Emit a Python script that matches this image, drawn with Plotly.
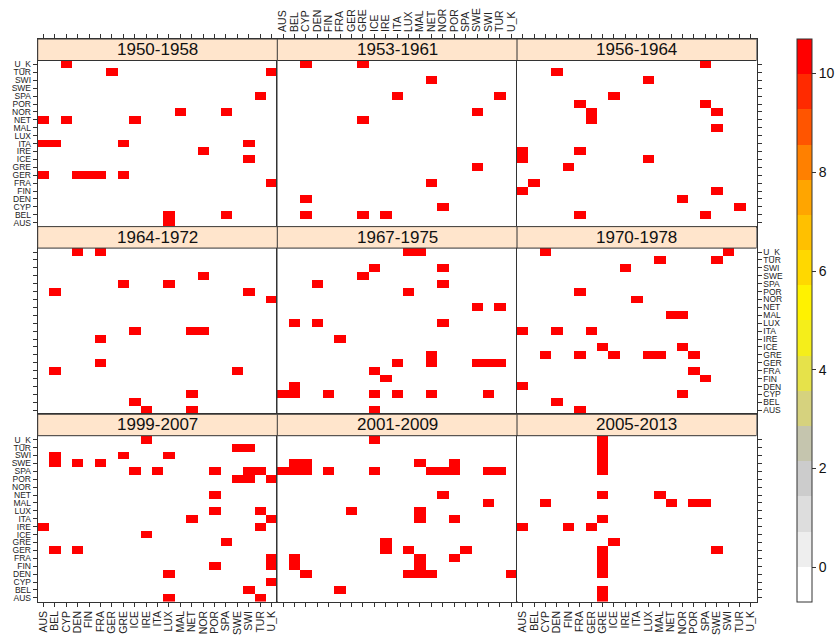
import plotly.graph_objects as go

# ---------------- data ----------------
countries = ["AUS", "BEL", "CYP", "DEN", "FIN", "FRA", "GER", "GRE", "ICE", "IRE",
             "ITA", "LUX", "MAL", "NET", "NOR", "POR", "SPA", "SWE", "SWI", "TUR", "U_K"]

periods = ["1950-1958", "1953-1961", "1956-1964",
           "1964-1972", "1967-1975", "1970-1978",
           "1999-2007", "2001-2009", "2005-2013"]

# row country (y) -> list of column countries (x) whose cell has the top value
links_1950_1958 = {
    "U_K": ["CYP"], "TUR": ["GER", "U_K"], "SPA": ["TUR"], "NOR": ["MAL", "SPA"],
    "NET": ["AUS", "CYP", "ICE"], "ITA": ["AUS", "BEL", "GRE", "SWI"], "IRE": ["NOR"],
    "ICE": ["SWI"], "GER": ["AUS", "DEN", "FIN", "FRA", "GRE"], "FRA": ["U_K"],
    "BEL": ["LUX", "SPA"], "AUS": ["LUX"],
}
links_1953_1961 = {
    "U_K": ["CYP", "GRE"], "SWI": ["NET"], "SPA": ["ITA", "TUR"], "NOR": ["SWE"],
    "NET": ["GRE"], "GRE": ["SWE"], "FRA": ["NET"], "DEN": ["CYP"], "CYP": ["NOR"],
    "BEL": ["CYP", "GRE", "IRE"],
}
links_1956_1964 = {
    "U_K": ["SPA"], "TUR": ["DEN"], "SWI": ["LUX"], "SPA": ["ICE"], "POR": ["FRA", "SPA"],
    "NOR": ["GER", "SWE"], "NET": ["GER"], "MAL": ["SWE"], "IRE": ["AUS", "FRA"],
    "ICE": ["AUS", "LUX"], "GRE": ["FIN"], "FRA": ["BEL"], "FIN": ["AUS", "SWE"],
    "DEN": ["NOR"], "CYP": ["TUR"], "BEL": ["FRA", "SPA"],
}
links_1964_1972 = {
    "U_K": ["DEN", "FRA"], "SWE": ["NOR"], "SPA": ["GRE", "LUX"], "POR": ["BEL", "SWI"],
    "NOR": ["U_K"], "ITA": ["ICE", "NET", "NOR"], "IRE": ["FRA"], "GER": ["FRA"],
    "FRA": ["BEL", "SWE"], "CYP": ["NET"], "BEL": ["ICE"], "AUS": ["IRE", "NET"],
}
links_1967_1975 = {
    "U_K": ["LUX", "MAL"], "SWI": ["ICE", "NOR"], "SWE": ["GRE"], "SPA": ["DEN", "NOR"],
    "POR": ["LUX"], "NET": ["SWE", "TUR"], "LUX": ["BEL", "DEN", "NOR"], "IRE": ["FRA"],
    "GRE": ["NET"], "GER": ["ITA", "NET", "SWE", "SWI", "TUR"], "FRA": ["ICE"],
    "FIN": ["IRE"], "DEN": ["BEL"], "CYP": ["AUS", "BEL", "FIN", "ICE", "ITA", "NET", "SWI"],
    "AUS": ["ICE"],
}
links_1970_1978 = {
    "U_K": ["CYP", "SWI"], "TUR": ["MAL", "SWE"], "SWI": ["IRE"], "POR": ["FRA"],
    "NOR": ["ITA"], "MAL": ["NET", "NOR"], "ITA": ["AUS", "DEN", "GER"],
    "ICE": ["GRE", "NOR"], "GRE": ["CYP", "FRA", "ICE", "LUX", "MAL", "POR"],
    "FRA": ["POR"], "FIN": ["SPA"], "DEN": ["AUS"], "CYP": ["NOR"], "BEL": ["DEN"],
    "AUS": ["FRA"],
}
links_1999_2007 = {
    "U_K": ["IRE"], "TUR": ["SWE", "SWI"], "SWI": ["BEL", "GRE", "LUX"],
    "SWE": ["BEL", "DEN", "FRA"], "SPA": ["ICE", "ITA", "POR", "SWI", "TUR"],
    "POR": ["SWE", "SWI", "U_K"], "NET": ["POR"], "LUX": ["POR", "TUR"],
    "ITA": ["NET", "U_K"], "IRE": ["AUS", "TUR"], "ICE": ["IRE"], "GRE": ["SPA"],
    "GER": ["BEL", "DEN"], "FRA": ["U_K"], "FIN": ["POR", "U_K"], "DEN": ["LUX"],
    "CYP": ["U_K"], "BEL": ["SWI"], "AUS": ["LUX", "TUR"],
}
links_2001_2009 = {
    "U_K": ["ICE"], "SWE": ["BEL", "CYP", "MAL", "POR"],
    "SPA": ["AUS", "BEL", "CYP", "FIN", "ICE", "NET", "NOR", "POR", "SWI", "TUR"],
    "NET": ["NOR"], "MAL": ["SWI"], "LUX": ["GER", "MAL"], "ITA": ["MAL", "POR"],
    "GRE": ["IRE"], "GER": ["IRE", "LUX", "SPA"], "FRA": ["BEL", "MAL", "POR"],
    "FIN": ["BEL", "MAL"], "DEN": ["CYP", "LUX", "MAL", "NET", "U_K"], "BEL": ["FRA"],
}
links_2005_2013 = {
    "U_K": ["GRE"], "TUR": ["GRE"], "SWI": ["GRE"], "SWE": ["GRE"], "SPA": ["GRE"],
    "NET": ["GRE", "MAL"], "MAL": ["CYP", "NET", "POR", "SPA"], "ITA": ["GRE"],
    "IRE": ["AUS", "FIN", "GER"], "GRE": ["ICE"], "GER": ["GRE", "SWE"],
    "FRA": ["GRE"], "FIN": ["GRE"], "DEN": ["GRE"], "BEL": ["GRE"], "AUS": ["GRE"],
}

panel_links = [links_1950_1958, links_1953_1961, links_1956_1964,
               links_1964_1972, links_1967_1975, links_1970_1978,
               links_1999_2007, links_2001_2009, links_2005_2013]

marked_value = 10
empty_value = 0
colorbar_ticks = [0, 2, 4, 6, 8, 10]
z_range = [-0.7, 10.7]

# ---------------- style ----------------
band_colors = ["#FFFFFF", "#EEEEEE", "#DDDDDD", "#CCCCCC", "#C5C5AE", "#D6D27E",
               "#E6E24A", "#F5EE1A", "#FFF200", "#FFD800", "#FFC000", "#FFA500",
               "#FF8000", "#FF5500", "#FF2A00", "#FF0000"]
nb = len(band_colors)
colorscale = []
for i, col in enumerate(band_colors):
    colorscale.append([i / nb, col])
    colorscale.append([(i + 1) / nb, col])

W, H = 839, 640
col_edges = [37.7, 277.3, 517.0, 756.6]
top = 39.0
row_h = 187.6
strip_h = 21.5
n = len(countries)
cell_h = (row_h - strip_h) / n
s = strip_h / cell_h
line_col = "#333333"
font_family = "Liberation Sans, Arial, sans-serif"

fig = go.Figure()
layout = {}
shapes = []
annotations = []

for k, links in enumerate(panel_links):
    r, c = divmod(k, 3)
    z = [[empty_value] * n for _ in range(n)]
    for yc, xs in links.items():
        for xc in xs:
            z[countries.index(yc)][countries.index(xc)] = marked_value
    ax = "" if k == 0 else str(k + 1)
    fig.add_trace(go.Heatmap(x=countries, y=countries, z=z, coloraxis="coloraxis",
                             xaxis="x" + ax, yaxis="y" + ax,
                             hovertemplate="%{x} / %{y}: %{z}<extra></extra>"))
    x0 = col_edges[c] / W
    x1 = col_edges[c + 1] / W
    ytop = top + r * row_h
    ybot = ytop + row_h
    layout["xaxis" + ax] = dict(
        domain=[x0, x1], anchor="y" + ax, type="category",
        categoryorder="array", categoryarray=countries, range=[-0.5, n - 0.5],
        tickmode="array", tickvals=countries, ticktext=countries,
        showline=True, mirror=True, linecolor=line_col, linewidth=1,
        ticks="" if r == 1 else "outside", ticklen=4, tickcolor=line_col,
        side="top" if r == 0 else "bottom",
        showticklabels=(r == 0 and c == 1) or (r == 2 and c != 1),
        tickangle=-90, tickfont=dict(size=10.5, color="#222222", family=font_family),
        showgrid=False, zeroline=False, fixedrange=True, automargin=False,
    )
    layout["yaxis" + ax] = dict(
        domain=[1 - ybot / H, 1 - ytop / H], anchor="x" + ax, type="category",
        categoryorder="array", categoryarray=countries, range=[-0.5, n - 0.5 + s],
        tickmode="array", tickvals=countries, ticktext=countries,
        showline=True, mirror=True, linecolor=line_col, linewidth=1,
        ticks="" if c == 1 else "outside", ticklen=4, tickcolor=line_col,
        side="left" if c == 0 else "right",
        showticklabels=(c == 0 and r != 1) or (c == 2 and r == 1),
        tickfont=dict(size=8.5, color="#222222", family=font_family),
        showgrid=False, zeroline=False, fixedrange=True, automargin=False,
    )
    shapes.append(dict(type="rect", xref="x" + ax, yref="y" + ax,
                       x0=-0.5, x1=n - 0.5, y0=n - 0.5, y1=n - 0.5 + s,
                       fillcolor="#FFE5CC", line=dict(color=line_col, width=1),
                       layer="above"))
    annotations.append(dict(xref="x" + ax, yref="y" + ax, x=(n - 1) / 2,
                            y=n - 0.5 + s / 2, text=periods[k], showarrow=False,
                            font=dict(size=17, color="#111111", family=font_family),
                            xanchor="center", yanchor="middle"))

bar_len = 3 * row_h
fig.update_layout(
    width=W, height=H, autosize=False,
    margin=dict(l=0, r=0, t=0, b=0, pad=0),
    paper_bgcolor="white", plot_bgcolor="white",
    showlegend=False,
    shapes=shapes, annotations=annotations,
    coloraxis=dict(
        cmin=z_range[0], cmax=z_range[1], colorscale=colorscale,
        colorbar=dict(
            thickness=15, thicknessmode="pixels", len=bar_len, lenmode="pixels",
            x=797 / W, xanchor="left", xpad=0,
            y=1 - (top + bar_len / 2) / H, yanchor="middle", ypad=0,
            tickvals=colorbar_ticks, ticks="outside", ticklen=4, tickcolor=line_col,
            outlinewidth=1, outlinecolor=line_col,
            tickfont=dict(size=14, color="#111111", family=font_family),
        ),
    ),
    **layout,
)

fig.write_html("out.html", config={"displayModeBar": False},
               post_script="document.body.style.margin='0';document.body.style.overflow='hidden';")
